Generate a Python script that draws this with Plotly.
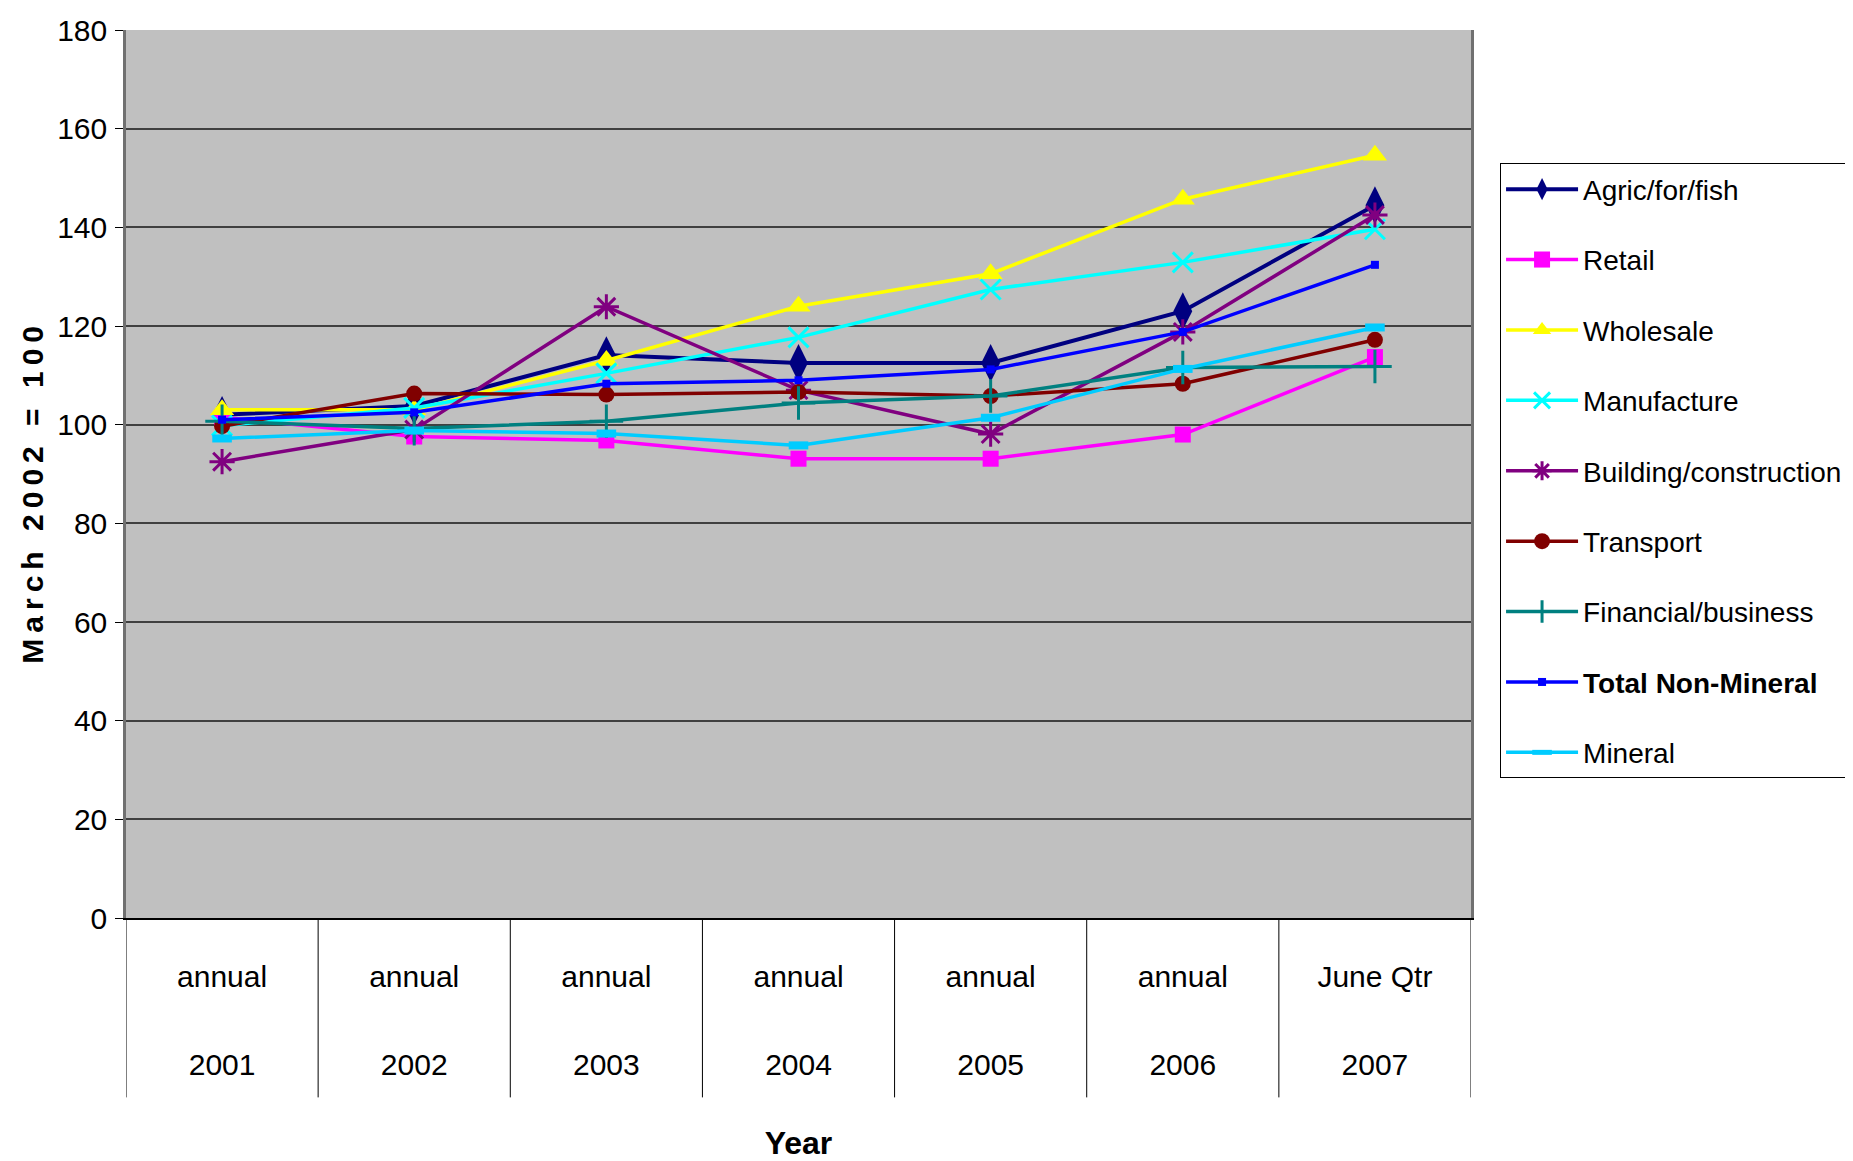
import plotly.graph_objects as go

periods = ["annual", "annual", "annual", "annual", "annual", "annual", "June Qtr"]
years = ["2001", "2002", "2003", "2004", "2005", "2006", "2007"]
categories = [f"<span style='font-size:30px'>{p}</span><br><br><span style='font-size:30px'>{y}</span>"
              for p, y in zip(periods, years)]

agric = [102.0, 103.8, 114.1, 112.5, 112.5, 123.0, 144.5]
retail = [101.5, 97.6, 96.8, 93.1, 93.1, 98.0, 113.7]
wholesale = [103.0, 103.0, 113.0, 124.0, 130.6, 145.7, 154.6]
manufacture = [99.8, 103.4, 110.4, 117.7, 127.4, 132.9, 139.6]
building = [92.5, 99.0, 123.9, 107.0, 98.1, 118.8, 142.5]
transport = [99.7, 106.3, 106.1, 106.6, 105.8, 108.3, 117.2]
financial = [100.7, 99.2, 100.7, 104.4, 105.8, 111.6, 111.8]
total_non_mineral = [101.0, 102.5, 108.3, 109.0, 111.2, 118.8, 132.4]
mineral = [97.2, 98.8, 98.2, 95.8, 101.4, 111.3, 119.7]

# name, values, colour, symbol, size, marker line width, line width
series = [
    ("Agric/for/fish", agric, "#000080", "diamond-tall", 27, 0, 4),
    ("Retail", retail, "#FF00FF", "square", 16, 0, 3.5),
    ("Wholesale", wholesale, "#FFFF00", "triangle-up", 21, 0, 3.5),
    ("Manufacture", manufacture, "#00FFFF", "x-thin-open", 20, 3, 3.5),
    ("Building/construction", building, "#800080", "asterisk-open", 21, 3, 3.5),
    ("Transport", transport, "#800000", "circle", 16, 0, 3.5),
    ("Financial/business", financial, "#008080", "cross-thin-open", 24, 3, 3.5),
    ("<b>Total Non-Mineral</b>", total_non_mineral, "#0000FF", "square", 8, 0, 3.5),
    ("Mineral", mineral, "#00CCFF", "line-ew-open", 14, 8, 3.5),
]

FONT = "Liberation Sans, Arial, sans-serif"

fig = go.Figure()
for i, (name, vals, color, sym, size, lw, w) in enumerate(series):
    fig.add_trace(go.Scatter(
        x=categories, y=vals, name=name, mode="lines+markers",
        line=dict(color=color, width=w),
        marker=dict(symbol=sym, size=size, color=color,
                    line=dict(color=color, width=lw)),
        legendgroup=f"g{i}",
    ))

# category boundary separators below the plot
shapes = []
for k in range(len(categories) + 1):
    shapes.append(dict(type="line", xref="x", yref="paper",
                       x0=k - 0.5, x1=k - 0.5, y0=0, y1=-0.202,
                       line=dict(color="black", width=1)))

ytitle = ("<b>M\u2009a\u2009r\u2009c\u2009h\u2009 \u20092\u20090\u20090\u20092\u2009 \u2009=\u2009 \u20091\u20090\u20090"
          "\u00a0\u00a0\u00a0\u00a0\u00a0</b>")

fig.update_layout(
    width=1845, height=1153,
    margin=dict(l=118, r=382, t=22, b=243, autoexpand=False),
    paper_bgcolor="white",
    plot_bgcolor="#C0C0C0",
    font=dict(family=FONT, color="black", size=30),
    shapes=shapes,
    showlegend=True,
    legend=dict(
        x=1.0216, y=0.8497, xanchor="left", yanchor="top",
        bordercolor="black", borderwidth=1, bgcolor="white",
        font=dict(family=FONT, size=28, color="black"),
        tracegroupgap=31, itemwidth=72,
    ),
    xaxis=dict(
        type="category", range=[-0.5, 6.5],
        showgrid=False, ticks="",
        tickfont=dict(family=FONT, size=34),
        ticklabelstandoff=26,
        showline=True, linecolor="black", linewidth=2,
        mirror=False,
        title=dict(text="<b>Year</b>", font=dict(family=FONT, size=32), standoff=58),
    ),
    yaxis=dict(
        range=[0, 180], dtick=20,
        showgrid=True, gridcolor="#404040", gridwidth=1.5,
        ticks="outside", ticklen=8, tickcolor="black",
        tickfont=dict(family=FONT, size=30),
        ticklabelstandoff=2,
        showline=True, linecolor="#707070", linewidth=2.5, mirror=True,
        zeroline=False,
        title=dict(text=ytitle, font=dict(family=FONT, size=30), standoff=5),
    ),
)

fig.write_html("out.html")
